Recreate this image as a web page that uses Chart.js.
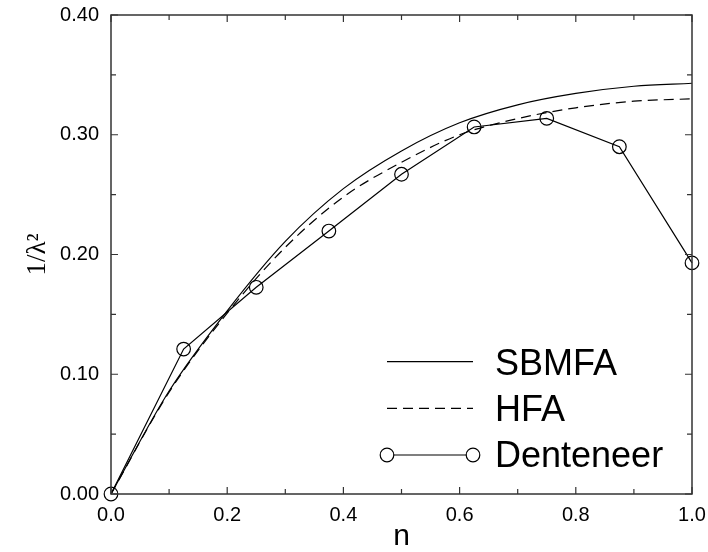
<!DOCTYPE html>
<html><head><meta charset="utf-8">
<script src="https://cdn.jsdelivr.net/npm/chart.js@4.4.0/dist/chart.umd.min.js"></script>
<style>html,body{margin:0;padding:0;background:#fff;}#wrap{width:708px;height:552px;}</style>
</head><body><div id="wrap"><canvas id="c" width="708" height="552"></canvas></div>
<script>
// ---- data ----
const nGrid = [0, 0.1, 0.2, 0.3, 0.4, 0.5, 0.6, 0.7, 0.8, 0.9, 1.0];
const sbmfa = [0, 0.086, 0.153, 0.211, 0.255, 0.2865, 0.310, 0.325, 0.3345, 0.3405, 0.343];
const hfa   = [0, 0.085, 0.151, 0.206, 0.248, 0.277, 0.300, 0.3135, 0.3225, 0.328, 0.330];
const nDent = [0, 0.125, 0.25, 0.375, 0.5, 0.625, 0.75, 0.875, 1.0];
const denteneer = [0, 0.121, 0.1726, 0.2196, 0.267, 0.3065, 0.3137, 0.290, 0.193];
const seriesNames = ['SBMFA', 'HFA', 'Denteneer'];
const xTicks = [0, 0.2, 0.4, 0.6, 0.8, 1.0];
const xMinor = [0.1, 0.3, 0.5, 0.7, 0.9];
const yTicks = [0, 0.1, 0.2, 0.3, 0.4];
const yMinor = [0.05, 0.15, 0.25, 0.35];
const xTitle = 'n';
const yTitle = '1/λ²';

const toXY = (xs, ys) => xs.map((x, i) => ({x: x, y: ys[i]}));

const frameTicks = {
  id: 'frameTicks',
  afterDatasetsDraw(chart) {
    const {ctx, chartArea: a, scales} = chart;
    const xs = scales.x, ys = scales.y;
    ctx.save();
    ctx.strokeStyle = '#333';
    ctx.lineWidth = 1.5;
    ctx.strokeRect(a.left, a.top, a.right - a.left, a.bottom - a.top);
    ctx.lineWidth = 1.2;
    const tick = (vals, len) => {
      vals.forEach(v => {
        const px = xs.getPixelForValue(v);
        ctx.beginPath();
        ctx.moveTo(px, a.bottom); ctx.lineTo(px, a.bottom - len);
        ctx.moveTo(px, a.top); ctx.lineTo(px, a.top + len);
        ctx.stroke();
      });
    };
    const tickY = (vals, len) => {
      vals.forEach(v => {
        const py = ys.getPixelForValue(v);
        ctx.beginPath();
        ctx.moveTo(a.left, py); ctx.lineTo(a.left + len, py);
        ctx.moveTo(a.right, py); ctx.lineTo(a.right - len, py);
        ctx.stroke();
      });
    };
    tick(xTicks, 7); tick(xMinor, 5);
    tickY(yTicks, 7); tickY(yMinor, 5);
    ctx.restore();
  }
};

const insideLegend = {
  id: 'insideLegend',
  afterDatasetsDraw(chart) {
    const {ctx} = chart;
    const x0 = 387, x1 = 473, tx = 495;
    const lineY = [361.7, 408.3, 455];
    const baseY = [375, 421, 467];
    ctx.save();
    chart.data.datasets.forEach((ds, i) => {
      ctx.strokeStyle = ds.borderColor;
      ctx.lineWidth = ds.borderWidth;
      ctx.setLineDash(ds.borderDash || []);
      ctx.beginPath();
      ctx.moveTo(x0, lineY[i]); ctx.lineTo(x1, lineY[i]);
      ctx.stroke();
      ctx.setLineDash([]);
      if (ds.pointRadius > 0) {
        [x0, x1].forEach(px => {
          ctx.beginPath();
          ctx.arc(px, lineY[i], ds.pointRadius, 0, Math.PI * 2);
          ctx.fillStyle = '#fff';
          ctx.fill();
          ctx.lineWidth = ds.pointBorderWidth;
          ctx.strokeStyle = ds.pointBorderColor;
          ctx.stroke();
        });
      }
      ctx.fillStyle = '#000';
      ctx.font = '36px "Liberation Sans", Arial, sans-serif';
      ctx.textBaseline = 'alphabetic';
      ctx.textAlign = 'left';
      ctx.fillText(ds.label, tx, baseY[i]);
    });
    ctx.restore();
  }
};

new Chart(document.getElementById('c'), {
  type: 'line',
  data: {
    datasets: [
      {label: seriesNames[0], data: toXY(nGrid, sbmfa), borderColor: '#000', borderWidth: 1.2,
       pointRadius: 0, cubicInterpolationMode: 'monotone', fill: false},
      {label: seriesNames[1], data: toXY(nGrid, hfa), borderColor: '#000', borderWidth: 1.2,
       borderDash: [10, 6], pointRadius: 0, cubicInterpolationMode: 'monotone', fill: false},
      {label: seriesNames[2], data: toXY(nDent, denteneer), borderColor: '#000', borderWidth: 1.2,
       pointRadius: 6.8, pointBorderWidth: 1.2, pointBorderColor: '#000', pointBackgroundColor: 'rgba(0,0,0,0)',
       tension: 0, fill: false, clip: false}
    ]
  },
  options: {
    responsive: false,
    devicePixelRatio: 1,
    animation: false,
    layout: {padding: {top: 15, right: 16, left: 0, bottom: 0}},
    plugins: {legend: {display: false}, tooltip: {enabled: false}},
    scales: {
      x: {
        type: 'linear', min: 0, max: 1,
        afterBuildTicks: s => { s.ticks = xTicks.map(v => ({value: v})); },
        afterFit: s => { s.height = 58; s.paddingLeft = 0; s.paddingRight = 0; },
        ticks: {callback: v => Number(v).toFixed(1), color: '#000', padding: 9,
                font: {family: '"Liberation Sans", Arial, sans-serif', size: 20}, maxRotation: 0},
        grid: {display: true, drawOnChartArea: false, drawTicks: false},
        border: {display: false},
        title: {display: true, text: xTitle, color: '#000',
                font: {family: '"Liberation Sans", Arial, sans-serif', size: 30, lineHeight: 1},
                padding: {top: 0, bottom: 0}}
      },
      y: {
        type: 'linear', min: 0, max: 0.4,
        afterBuildTicks: s => { s.ticks = yTicks.map(v => ({value: v})); },
        afterFit: s => { s.width = 111; s.paddingTop = 0; s.paddingBottom = 0; },
        ticks: {callback: v => Number(v).toFixed(2), color: '#000', padding: 12,
                font: {family: '"Liberation Sans", Arial, sans-serif', size: 20}},
        grid: {display: true, drawOnChartArea: false, drawTicks: false},
        border: {display: false},
        title: {display: true, text: yTitle, color: '#000',
                font: {family: '"Liberation Serif", "Times New Roman", serif', size: 27, lineHeight: 1.2},
                padding: {top: 22, bottom: 0}}
      }
    }
  },
  plugins: [frameTicks, insideLegend]
});
</script>
</body></html>
